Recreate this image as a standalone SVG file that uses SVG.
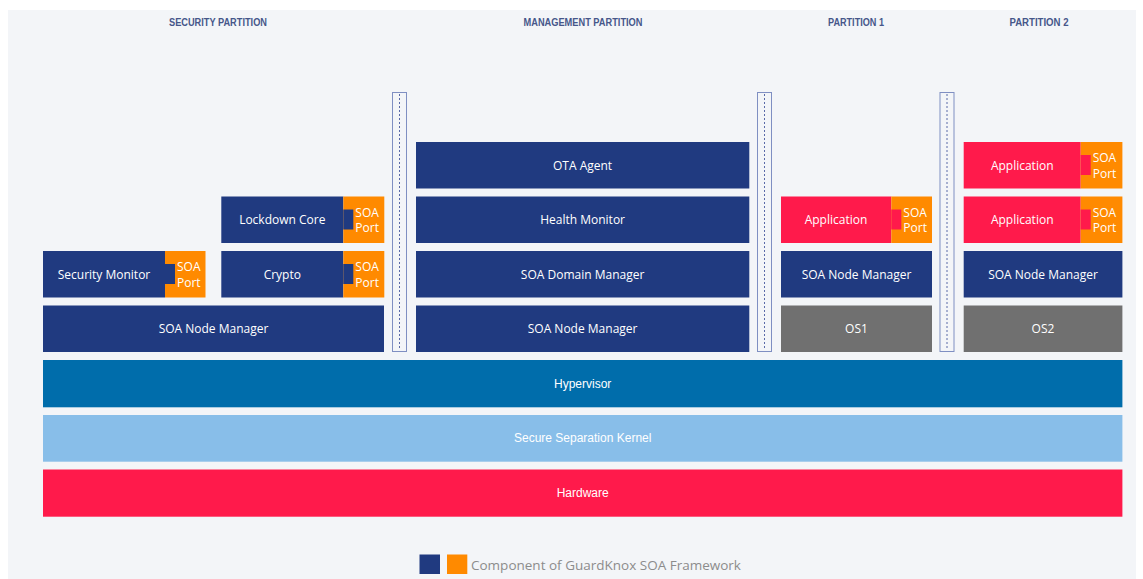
<svg xmlns="http://www.w3.org/2000/svg" width="1143" height="579" viewBox="0 0 1143 579">
<defs>
<style>
.bg{fill:#f3f5f8}
.blue{fill:#203a80}
.port{fill:#ff8a00}
.app{fill:#ff1a4b}
.os{fill:#707070}
.sep{fill:#f3f5f8;stroke:#7f8fc2;stroke-width:1}
.dot{stroke:#5a6aa8;stroke-width:1;stroke-dasharray:2 2}
.lbl{font-family:"Open Sans","Noto Sans",sans-serif;font-size:12px;fill:#ffffff;text-anchor:middle;dominant-baseline:central}
.pt{font-family:"Open Sans","Noto Sans",sans-serif;font-size:12px;fill:#ffffff}
.bar{font-family:"Liberation Sans",Arial,sans-serif;font-size:12px;fill:#ffffff;text-anchor:middle;dominant-baseline:central}
.ttl{font-family:"Liberation Sans",Arial,sans-serif;font-weight:bold;font-size:10px;fill:#46578a;text-anchor:middle;dominant-baseline:central}
.leg{font-family:"Open Sans","Noto Sans",sans-serif;font-size:13.5px;fill:#8c8c8c;dominant-baseline:central}
</style>
</defs>
<rect class="bg" x="8" y="10" width="1128" height="569"/>

<g id="titles">
<text class="ttl" x="218" y="22" textLength="98" lengthAdjust="spacingAndGlyphs">SECURITY PARTITION</text>
<text class="ttl" x="583" y="22" textLength="119" lengthAdjust="spacingAndGlyphs">MANAGEMENT PARTITION</text>
<text class="ttl" x="856" y="22" textLength="56" lengthAdjust="spacingAndGlyphs">PARTITION 1</text>
<text class="ttl" x="1039" y="22" textLength="59" lengthAdjust="spacingAndGlyphs">PARTITION 2</text>
</g>

<g id="separators">
<rect class="sep" x="392.5" y="92.5" width="14" height="259"/>
<line class="dot" x1="399.5" y1="94" x2="399.5" y2="350"/>
<rect class="sep" x="757.5" y="92.5" width="14" height="259"/>
<line class="dot" x1="764.5" y1="94" x2="764.5" y2="350"/>
<rect class="sep" x="940" y="92.5" width="14" height="259"/>
<line class="dot" x1="947" y1="94" x2="947" y2="350"/>
</g>

<!-- Security partition -->
<g id="sec-node-manager">
<rect class="blue" x="43" y="305.5" width="341" height="46.5"/>
<text class="lbl" x="213.5" y="328.7">SOA Node Manager</text>
</g>
<g id="security-monitor">
<rect class="blue" x="43" y="251" width="122" height="46.5"/>
<rect class="port" x="165" y="251" width="40.5" height="46.5"/>
<rect class="blue" x="165" y="264" width="10" height="20"/>
<text class="lbl" x="104" y="274.2">Security Monitor</text>
<text class="pt" x="177" y="271">SOA</text>
<text class="pt" x="177" y="286.5">Port</text>
</g>
<g id="crypto">
<rect class="blue" x="221.3" y="251" width="122" height="46.5"/>
<rect class="port" x="343.3" y="251" width="41" height="46.5"/>
<rect class="blue" x="343.3" y="264" width="10" height="20"/>
<text class="lbl" x="282.3" y="274.2">Crypto</text>
<text class="pt" x="355.3" y="271">SOA</text>
<text class="pt" x="355.3" y="286.5">Port</text>
</g>
<g id="lockdown-core">
<rect class="blue" x="221.3" y="196.5" width="122" height="46.5"/>
<rect class="port" x="343.3" y="196.5" width="41" height="46.5"/>
<rect class="blue" x="343.3" y="209.5" width="10" height="20"/>
<text class="lbl" x="282.3" y="219.7">Lockdown Core</text>
<text class="pt" x="355.3" y="216.5">SOA</text>
<text class="pt" x="355.3" y="232">Port</text>
</g>

<!-- Management partition -->
<g id="ota-agent">
<rect class="blue" x="416" y="142" width="333.3" height="46.5"/>
<text class="lbl" x="582.6" y="165.2">OTA Agent</text>
</g>
<g id="health-monitor">
<rect class="blue" x="416" y="196.5" width="333.3" height="46.5"/>
<text class="lbl" x="582.6" y="219.7">Health Monitor</text>
</g>
<g id="soa-domain-manager">
<rect class="blue" x="416" y="251" width="333.3" height="46.5"/>
<text class="lbl" x="582.6" y="274.2">SOA Domain Manager</text>
</g>
<g id="mgmt-node-manager">
<rect class="blue" x="416" y="305.5" width="333.3" height="46.5"/>
<text class="lbl" x="582.6" y="328.7">SOA Node Manager</text>
</g>

<!-- Partition 1 -->
<g id="p1-application">
<rect class="app" x="781" y="196.5" width="110.3" height="46.5"/>
<rect class="port" x="891.3" y="196.5" width="40.7" height="46.5"/>
<rect class="app" x="891.3" y="209.5" width="10" height="20"/>
<text class="lbl" x="836" y="219.7">Application</text>
<text class="pt" x="903.3" y="216.5">SOA</text>
<text class="pt" x="903.3" y="232">Port</text>
</g>
<g id="p1-node-manager">
<rect class="blue" x="781" y="251" width="151" height="46.5"/>
<text class="lbl" x="856.5" y="274.2">SOA Node Manager</text>
</g>
<g id="os1">
<rect class="os" x="781" y="305.5" width="151" height="46.5"/>
<text class="lbl" x="856.5" y="328.7">OS1</text>
</g>

<!-- Partition 2 -->
<g id="p2-application-top">
<rect class="app" x="963.7" y="142" width="117" height="46.5"/>
<rect class="port" x="1080.7" y="142" width="41.7" height="46.5"/>
<rect class="app" x="1080.7" y="155" width="10" height="20"/>
<text class="lbl" x="1022.2" y="165.2">Application</text>
<text class="pt" x="1092.7" y="162">SOA</text>
<text class="pt" x="1092.7" y="177.5">Port</text>
</g>
<g id="p2-application">
<rect class="app" x="963.7" y="196.5" width="117" height="46.5"/>
<rect class="port" x="1080.7" y="196.5" width="41.7" height="46.5"/>
<rect class="app" x="1080.7" y="209.5" width="10" height="20"/>
<text class="lbl" x="1022.2" y="219.7">Application</text>
<text class="pt" x="1092.7" y="216.5">SOA</text>
<text class="pt" x="1092.7" y="232">Port</text>
</g>
<g id="p2-node-manager">
<rect class="blue" x="963.7" y="251" width="158.7" height="46.5"/>
<text class="lbl" x="1043" y="274.2">SOA Node Manager</text>
</g>
<g id="os2">
<rect class="os" x="963.7" y="305.5" width="158.7" height="46.5"/>
<text class="lbl" x="1043" y="328.7">OS2</text>
</g>

<!-- Base layers -->
<g id="hypervisor">
<rect x="43" y="360" width="1079.4" height="47.3" fill="#006dab"/>
<text class="bar" x="582.7" y="383.7">Hypervisor</text>
</g>
<g id="secure-separation-kernel">
<rect x="43" y="415" width="1079.4" height="46.7" fill="#88bee9"/>
<text class="bar" x="582.7" y="438.4">Secure Separation Kernel</text>
</g>
<g id="hardware">
<rect x="43" y="469.5" width="1079.4" height="47.2" fill="#ff1a4b"/>
<text class="bar" x="582.7" y="493.1">Hardware</text>
</g>

<g id="legend">
<rect class="blue" x="419.5" y="554.5" width="20.5" height="19.5"/>
<rect class="port" x="447" y="554.5" width="20.3" height="19.5"/>
<text class="leg" x="471" y="564.5">Component of GuardKnox SOA Framework</text>
</g>

<g id="connectors"></g>
</svg>
